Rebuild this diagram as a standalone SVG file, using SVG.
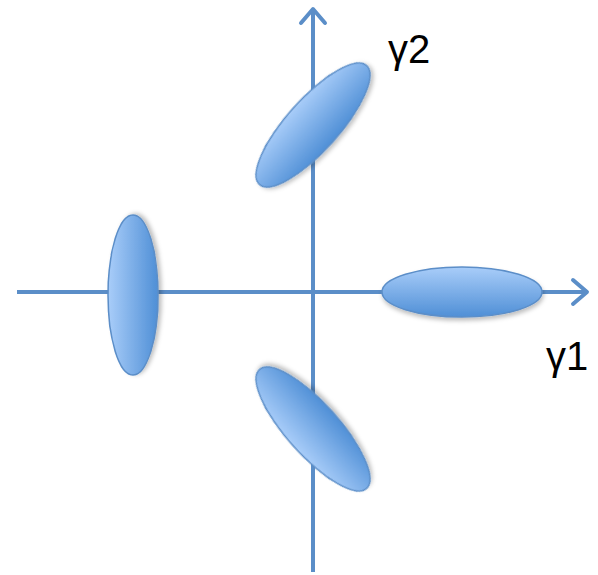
<svg xmlns="http://www.w3.org/2000/svg" width="598" height="575" viewBox="0 0 598 575">
<defs>
<linearGradient id="g" x1="0" y1="0" x2="0" y2="1">
<stop offset="0" stop-color="#a9cdf9"/>
<stop offset="1" stop-color="#4f8fd6"/>
</linearGradient>
<filter id="sh" x="-20%" y="-20%" width="140%" height="160%">
<feDropShadow dx="1" dy="3" stdDeviation="2" flood-color="#000" flood-opacity="0.25"/>
</filter>
<marker id="arr" viewBox="0 0 20 30" refX="17" refY="15" markerWidth="20" markerHeight="30" markerUnits="userSpaceOnUse" orient="auto">
<polyline points="3,3 17,15 3,27" fill="none" stroke="#5b8ec8" stroke-width="4" stroke-linecap="round" stroke-linejoin="round"/>
</marker>
</defs>
<style>
.ax{stroke:#5b8ec8;stroke-width:4;fill:none}
.el{fill:url(#g);stroke:#5b8ec8;stroke-width:1.5;filter:url(#sh)}
.lb{font-family:"Liberation Sans",Arial,sans-serif;font-size:40px;fill:#000}
</style>
<g id="connectors">
<line class="ax" x1="313" y1="572" x2="313" y2="9" marker-end="url(#arr)"/>
<line class="ax" x1="17" y1="292" x2="587" y2="292" marker-end="url(#arr)"/>
</g>
<g id="ellipse-left"><ellipse class="el" cx="0" cy="0" rx="80" ry="25" transform="translate(133,295) rotate(-90)"/></g>
<g id="ellipse-right"><ellipse class="el" cx="0" cy="0" rx="80" ry="25" transform="translate(462,292)"/></g>
<g id="ellipse-top"><ellipse class="el" cx="0" cy="0" rx="80" ry="26" transform="translate(313,125) rotate(-48)"/></g>
<g id="ellipse-bottom"><ellipse class="el" cx="0" cy="0" rx="80" ry="26" transform="translate(313,429) rotate(-132)"/></g>
<g id="label-g2"><text class="lb" x="388" y="63">γ2</text></g>
<g id="label-g1"><text class="lb" x="546" y="370">γ1</text></g>
</svg>
